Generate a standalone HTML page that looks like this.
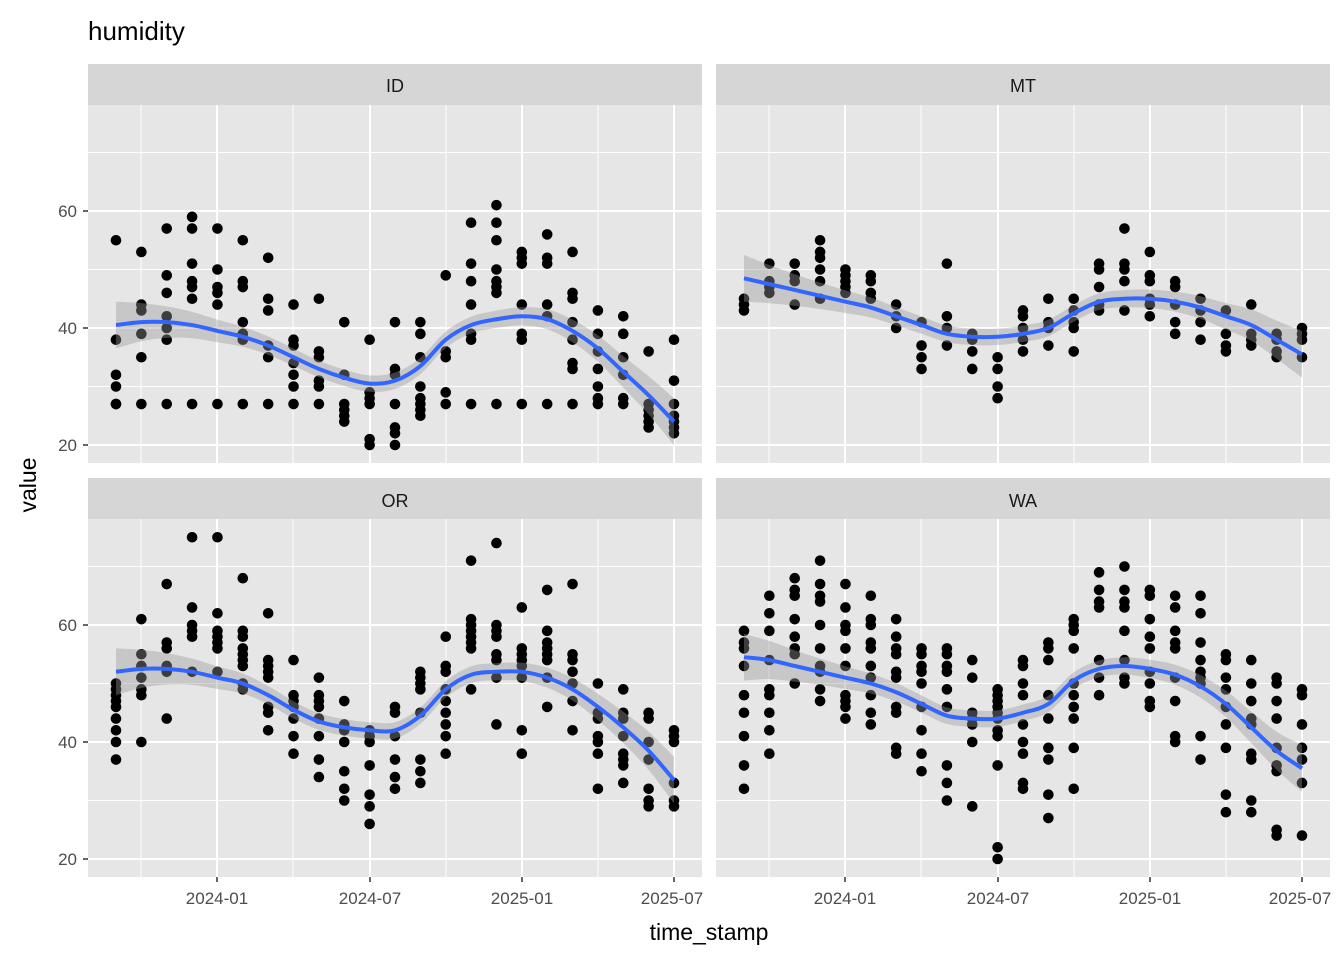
<!DOCTYPE html>
<html><head><meta charset="utf-8"><style>
body{margin:0;background:#fff;}
svg text{font-family:"Liberation Sans",Arial,sans-serif;}
</style></head><body>
<svg id="s" width="1344" height="960" xmlns="http://www.w3.org/2000/svg">
<rect width="1344" height="960" fill="#fff"/>
<text x="88" y="40" font-size="26" fill="#000">humidity</text>
<g id="panels"></g>
<g font-size="18" fill="#1a1a1a" text-anchor="middle">
<text x="395" y="92">ID</text>
<text x="1023" y="92">MT</text>
<text x="395" y="507">OR</text>
<text x="1023" y="507">WA</text>
</g>
<g font-size="17" fill="#4d4d4d" text-anchor="end">
<text x="77" y="217">60</text><text x="77" y="334">40</text><text x="77" y="451">20</text>
<text x="77" y="631">60</text><text x="77" y="748">40</text><text x="77" y="865">20</text>
</g>
<g font-size="17" fill="#4d4d4d" text-anchor="middle">
<text x="217" y="904">2024-01</text><text x="370" y="904">2024-07</text><text x="522" y="904">2025-01</text><text x="672" y="904">2025-07</text>
<text x="845" y="904">2024-01</text><text x="998" y="904">2024-07</text><text x="1150" y="904">2025-01</text><text x="1300" y="904">2025-07</text>
</g>
<text x="709" y="940" font-size="23" fill="#000" text-anchor="middle">time_stamp</text>
<text transform="translate(36,485) rotate(-90)" font-size="23" fill="#000" text-anchor="middle">value</text>
</svg>
<script>
var NS="http://www.w3.org/2000/svg";
var G=document.getElementById("panels");
function el(t,a,p){var e=document.createElementNS(NS,t);for(var k in a)e.setAttribute(k,a[k]);(p||G).appendChild(e);return e;}
var D={
ID:{pts:[[55,38,32,30,27,27],[53,44,43,39,35,27],[57,49,46,42,40,38,27],[59,57,51,48,47,45,27],[57,50,47,46,44,27],[55,48,47,41,39,38,27],[52,45,43,37,35,27],[44,38,37,34,32,30,27],[45,36,35,31,30,27],[41,32,26,25,24,27],[38,29,28,27,21,20],[41,33,32,27,23,22,20],[41,39,35,30,28,27,26,25],[49,36,35,29,27],[58,51,48,44,39,38,27],[61,58,55,50,48,47,46,27],[53,52,51,44,39,38,27],[56,52,51,44,42,27],[53,46,45,41,38,34,33,27],[43,39,36,33,30,28,27],[42,39,35,32,28,27],[36,27,26,25,24,23],[38,31,27,25,24,23,22]],
sm:[40.5,41,41,40.5,39.5,38.5,37,35,33,31.5,30.5,31,33.5,38,40.5,41.5,42,41.5,39.5,36.5,32.5,28.5,24],x0:0,y0:0},
MT:{pts:[[45,44,43],[51,48,47,46],[51,49,48,44],[55,53,52,50,48,45],[50,49,48,47,46],[49,48,46,45],[44,42,40],[41,37,35,33],[51,42,40,37],[39,38,36,33],[35,33,30,28],[43,42,40,38,36],[45,41,40,37],[45,43,41,40,36],[51,50,47,44,43],[57,51,50,48,43],[53,49,48,45,44,42],[48,47,44,41,39],[45,43,41,38],[43,39,37,36],[44,39,38,37],[39,38,36,35],[40,39,38,35]],
sm:[48.5,47.5,46.5,45.5,44.5,43.5,42,40.5,39,38.5,38.5,39,40,42.5,44.5,45,45,44.5,43.5,42,40.5,38,35.5],x0:628,y0:0},
OR:{pts:[[50,49,48,47,46,44,42,40,37],[61,55,53,51,49,48,40],[67,57,56,53,52,44],[75,63,60,59,58,52],[75,62,59,58,57,56,52],[68,59,58,56,55,54,53,50,49],[62,54,53,52,51,46,45,42],[54,48,47,46,44,41,38],[51,48,47,46,44,41,37,34],[47,43,42,40,35,32,30],[42,41,40,36,31,29,26],[46,45,41,37,34,32],[52,51,50,49,45,37,35,33],[58,53,52,49,47,45,43,41,38],[71,61,60,59,58,57,56,49],[74,60,59,58,55,54,51,43],[63,56,55,54,53,51,42,38],[66,59,57,56,55,54,51,46],[67,55,54,52,50,47,42],[50,45,44,41,40,38,32],[49,45,44,41,38,37,36,33],[45,44,40,37,32,30,29],[42,41,40,33,30,29]],
sm:[52,52.5,52.5,52,51,50,48,45.5,43.5,42.5,42,42,44.5,49,51.5,52,52,51,49,46,42.5,38.5,33.5],x0:0,y0:414},
WA:{pts:[[59,57,56,53,48,45,41,36,32],[65,62,59,54,49,48,45,42,38],[68,66,65,61,58,56,55,50],[71,67,65,64,60,56,53,52,49,47],[67,63,60,59,56,53,48,47,46,44],[65,61,60,57,56,53,51,48,45,43],[61,58,56,55,52,51,46,45,39,38],[56,55,53,52,50,46,42,38,35],[56,55,53,52,49,46,36,33,30],[54,51,45,44,43,40,29],[49,48,47,46,45,44,42,41,36,22,20],[54,53,50,48,43,40,38,33,32],[57,56,54,48,44,39,37,31,27],[61,60,59,56,50,48,46,44,39,32],[69,66,64,63,54,51,48],[70,66,64,63,59,54,51,50],[66,65,61,58,56,52,50,47,46],[65,63,59,57,56,51,47,41,40],[65,62,57,54,52,51,50,41,37],[55,54,51,49,46,43,39,31,28],[54,50,47,44,43,38,37,30,28],[51,50,47,44,39,36,35,25,24],[49,48,43,39,37,33,24]],
sm:[54.5,54,53,52,51,50,48.5,46.5,44.5,44,44,45,46.5,50.5,52.5,53,52.5,51.5,49.5,46.5,42.5,38.5,35.5],x0:628,y0:414}
};
function path(P){var d="M"+P[0][0]+","+P[0][1];for(var i=0;i<P.length-1;i++){var p0=P[Math.max(i-1,0)],p1=P[i],p2=P[i+1],p3=P[Math.min(i+2,P.length-1)];d+="C"+(p1[0]+(p2[0]-p0[0])/6)+","+(p1[1]+(p2[1]-p0[1])/6)+" "+(p2[0]-(p3[0]-p1[0])/6)+","+(p2[1]-(p3[1]-p1[1])/6)+" "+p2[0]+","+p2[1];}return d;}
["ID","MT","OR","WA"].forEach(function(k){var p=D[k],ox=p.x0,oy=p.y0;
 var L=88+ox,T=105+oy;
 el("rect",{x:L,y:64+oy,width:614,height:41,fill:"#d6d6d6"});
 el("rect",{x:L,y:T,width:614,height:358,fill:"#e6e6e6"});
 function Y(v){return 445+oy-(v-20)*5.85;}
 function X(i){return 116+ox+i*25.364;}
 [30,50,70].forEach(function(v){el("line",{x1:L,x2:L+614,y1:Y(v),y2:Y(v),stroke:"#fff","stroke-width":1});});
 [141,293,446,598].forEach(function(x){el("line",{x1:x+ox,x2:x+ox,y1:T,y2:T+358,stroke:"#fff","stroke-width":1});});
 [20,40,60].forEach(function(v){el("line",{x1:L,x2:L+614,y1:Y(v),y2:Y(v),stroke:"#fff","stroke-width":2});});
 [217,370,522,674].forEach(function(x){el("line",{x1:x+ox,x2:x+ox,y1:T,y2:T+358,stroke:"#fff","stroke-width":2});});
 if(ox==0){[20,40,60].forEach(function(v){el("line",{x1:83,x2:88,y1:Y(v),y2:Y(v),stroke:"#333","stroke-width":1.5});});}
 if(oy>0){[217,370,522,674].forEach(function(x){el("line",{x1:x+ox,x2:x+ox,y1:877,y2:882,stroke:"#333","stroke-width":1.5});});}
 var g=el("g",{fill:"#000"});
 p.pts.forEach(function(c,i){c.forEach(function(v){el("circle",{cx:X(i),cy:Y(v),r:5.3},g);});});
 var up=[],lo=[],ln=[];
 p.sm.forEach(function(v,i){var t=(i-11)/11;var se=1.4+2.6*Math.pow(Math.abs(t),3.5);up.push([X(i),Y(v+se)]);lo.push([X(i),Y(v-se)]);ln.push([X(i),Y(v)]);});
 var lr=lo.slice().reverse();
 var d=path(up)+"L"+lr[0][0]+","+lr[0][1]+path(lr).slice(path(lr).indexOf("C"))+"Z";
 el("path",{d:d,fill:"#999","fill-opacity":0.4});
 el("path",{d:path(ln),fill:"none",stroke:"#3366FF","stroke-width":4});
});
</script>
</body></html>
